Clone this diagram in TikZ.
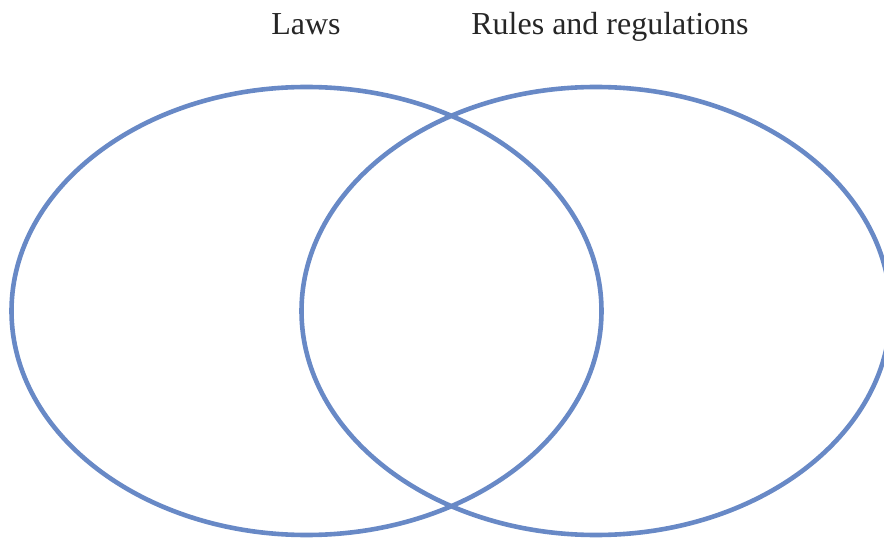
\documentclass[tikz,border=0pt]{standalone}
\usepackage{fontspec}
\setmainfont{Liberation Serif}
\definecolor{vennblue}{RGB}{104,137,198}
\tikzset{
    venn/.style={draw=vennblue, line width=4.6pt},
    setlabel/.style={anchor=base, inner sep=0pt, font=\fontsize{32}{38}\selectfont, text=black!85}
}
\begin{document}
\begin{tikzpicture}[x=1pt,y=-1pt]
                    \useasboundingbox (0,0) rectangle (884,540);
                    \clip (0,0) rectangle (884,540);

                    \draw[venn] (306.5,311) ellipse (295 and 224);
                    \draw[venn] (596,311) ellipse (294.5 and 224);

                    \node[setlabel] (laws) at (306,35) {Laws};
                    \node[setlabel] (rules) at (610,35) {Rules and regulations};
                \end{tikzpicture}
\end{document}
